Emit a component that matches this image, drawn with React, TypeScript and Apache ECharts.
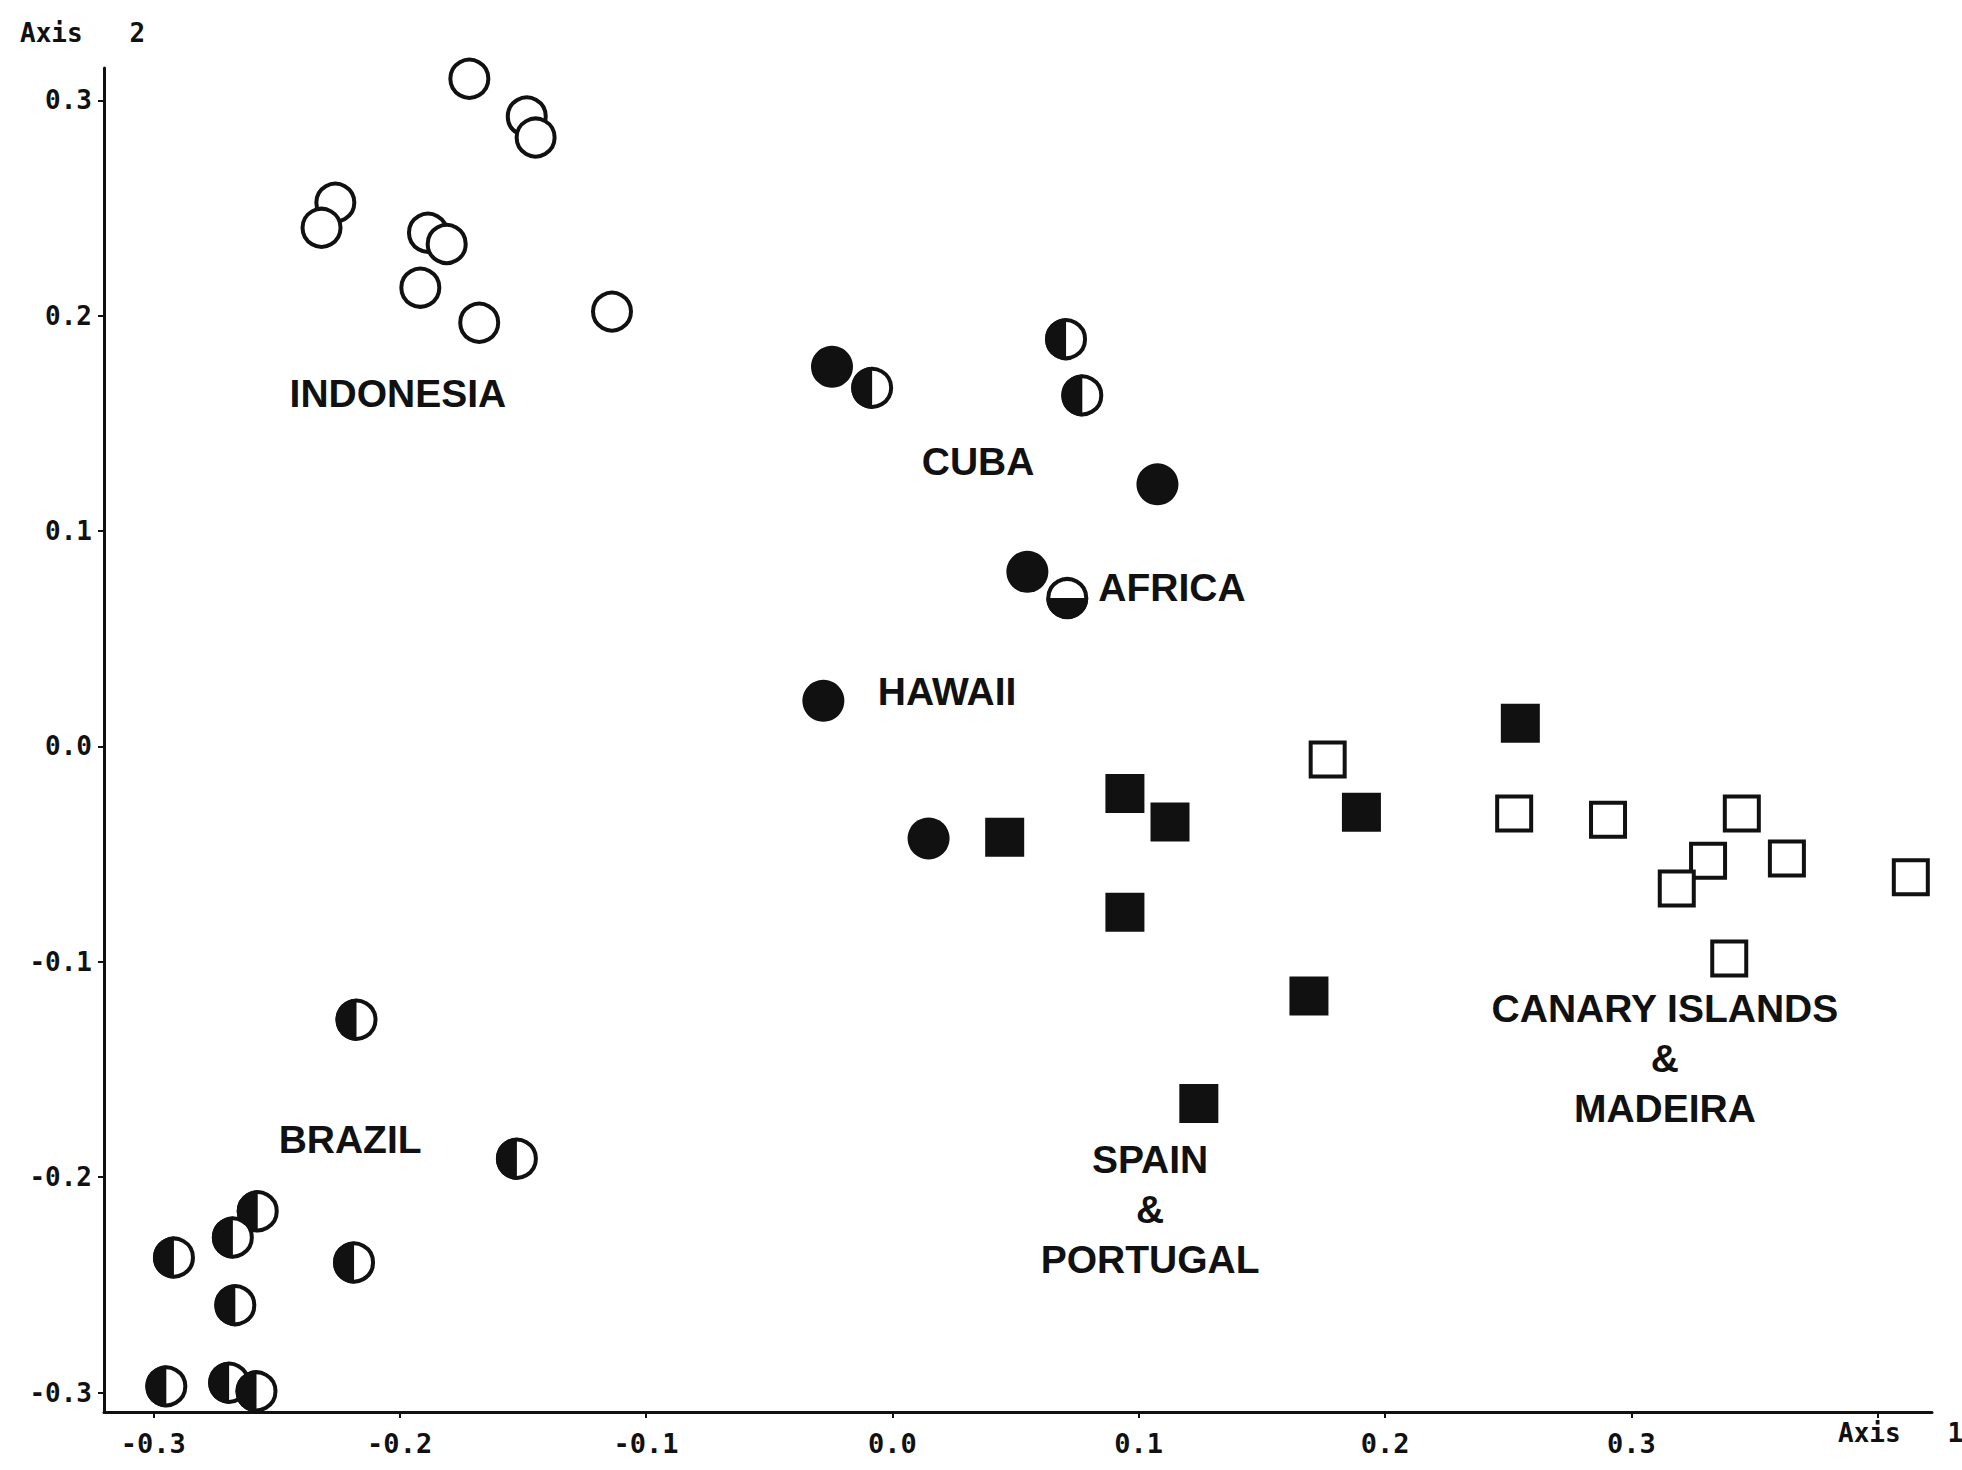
import React, { useEffect, useRef } from "react";
import * as echarts from "echarts";

// Axis ticks
const xTickValues = [-0.3, -0.2, -0.1, 0.0, 0.1, 0.2, 0.3, 0.4];
const xLabelValues = [-0.3, -0.2, -0.1, 0.0, 0.1, 0.2, 0.3];
const yTickValues = [-0.3, -0.2, -0.1, 0.0, 0.1, 0.2, 0.3];
const xAxisName = "Axis   1";
const yAxisName = "Axis   2";

// Indonesia (open circles)
const openCircles = [
  [-0.1717, 0.31], [-0.1484, 0.2925], [-0.1448, 0.2827], [-0.2261, 0.2525],
  [-0.2317, 0.2408], [-0.1885, 0.2385], [-0.1809, 0.2333], [-0.1916, 0.213],
  [-0.1677, 0.1967], [-0.1138, 0.2019],
];

// Cuba / Africa / Hawaii (filled circles)
const filledCircles = [
  [-0.0245, 0.1763], [0.1076, 0.1217], [0.0548, 0.0811], [-0.028, 0.0212], [0.0147, -0.0427],
];

// Half-filled circles, left half black (Cuba and Brazil)
const halfLeftCircles = [
  [-0.0082, 0.1665], [0.0705, 0.1891], [0.0771, 0.163],
  [-0.2175, -0.1269], [-0.1524, -0.1914], [-0.2576, -0.2158], [-0.2677, -0.228],
  [-0.2916, -0.2373], [-0.2185, -0.2396], [-0.2667, -0.2594], [-0.2947, -0.2971],
  [-0.2692, -0.2954], [-0.2581, -0.2994],
];

// Half-filled circle, bottom half black (Africa)
const halfBottomCircles = [[0.071, 0.0689]];

// Spain & Portugal (filled squares)
const filledSquares = [
  [0.0456, -0.0421], [0.0944, -0.0218], [0.1127, -0.0351], [0.1904, -0.0305],
  [0.2549, 0.0108], [0.0944, -0.077], [0.1691, -0.1159], [0.1244, -0.1658],
];

// Canary Islands & Madeira (open squares)
const openSquares = [
  [0.1767, -0.0061], [0.2524, -0.0311], [0.2905, -0.034], [0.3448, -0.0311],
  [0.3311, -0.0531], [0.3184, -0.0659], [0.3631, -0.052], [0.4134, -0.0607],
  [0.3397, -0.0984],
];

// Group labels and their data positions
const groupLabels = [
  "INDONESIA", "CUBA", "AFRICA", "HAWAII", "BRAZIL",
  "SPAIN\n&\nPORTUGAL", "CANARY ISLANDS\n&\nMADEIRA",
];
const groupLabelPos = [
  [-0.2007, 0.1641], [0.0348, 0.1325], [0.1135, 0.0736], [0.0222, 0.0257],
  [-0.2201, -0.1827], [0.1046, -0.2152], [0.3136, -0.1447],
];

const INK = "#111";
const MONO = "'DejaVu Sans Mono', monospace";
const SANS = "'Liberation Sans', Arial, sans-serif";

export default function App() {
  const ref = useRef<HTMLDivElement>(null);

  useEffect(() => {
    if (!ref.current) return;
    const chart = echarts.init(ref.current, null, { renderer: "svg" });

    const fmt = (v: number) => Number(v).toFixed(1);

    const halfRender = (start: number, end: number) => (params: any, api: any) => {
      const p = api.coord([api.value(0), api.value(1)]);
      return {
        type: "group",
        children: [
          {
            type: "circle",
            shape: { cx: p[0], cy: p[1], r: 19 },
            style: { fill: "#fff", stroke: INK, lineWidth: 4 },
          },
          {
            type: "sector",
            shape: { cx: p[0], cy: p[1], r0: 0, r: 21, startAngle: start, endAngle: end, clockwise: true },
            style: { fill: INK },
          },
        ],
      };
    };

    const option: any = {
      animation: false,
      backgroundColor: "#fff",
      grid: { left: 104, right: 30, top: 68, bottom: 58, containLabel: false },
      xAxis: {
        type: "value",
        min: -0.32,
        max: 0.422,
        splitLine: { show: false },
        axisLine: { show: true, onZero: false, lineStyle: { color: INK, width: 3 } },
        axisTick: { show: true, length: 6, customValues: xTickValues, lineStyle: { color: INK, width: 2 } },
        axisLabel: {
          customValues: xLabelValues,
          formatter: fmt,
          margin: 18,
          color: INK,
          fontFamily: MONO,
          fontWeight: "bold",
          fontSize: 27,
        },
      },
      yAxis: {
        type: "value",
        min: -0.309,
        max: 0.315,
        splitLine: { show: false },
        axisLine: { show: true, onZero: false, lineStyle: { color: INK, width: 3 } },
        axisTick: { show: true, length: 6, customValues: yTickValues, lineStyle: { color: INK, width: 2 } },
        axisLabel: {
          customValues: yTickValues,
          formatter: fmt,
          margin: 12,
          color: INK,
          fontFamily: MONO,
          fontWeight: "bold",
          fontSize: 26,
        },
      },
      graphic: [
        {
          type: "text",
          x: 20,
          y: 33,
          style: { text: yAxisName, fill: INK, font: `bold 26px ${MONO}`, verticalAlign: "middle" },
        },
        {
          type: "text",
          x: 1838,
          y: 1433,
          style: { text: xAxisName, fill: INK, font: `bold 26px ${MONO}`, verticalAlign: "middle" },
        },
      ],
      series: [
        {
          type: "scatter",
          data: openCircles,
          symbol: "circle",
          symbolSize: 38,
          itemStyle: { color: "#fff", borderColor: INK, borderWidth: 4, opacity: 1 },
        },
        {
          type: "scatter",
          data: filledCircles,
          symbol: "circle",
          symbolSize: 42,
          itemStyle: { color: INK, opacity: 1 },
        },
        {
          type: "custom",
          coordinateSystem: "cartesian2d",
          data: halfLeftCircles,
          encode: { x: 0, y: 1 },
          renderItem: halfRender(Math.PI / 2, Math.PI * 1.5),
        },
        {
          type: "custom",
          coordinateSystem: "cartesian2d",
          data: halfBottomCircles,
          encode: { x: 0, y: 1 },
          renderItem: halfRender(0, Math.PI),
        },
        {
          type: "scatter",
          data: filledSquares,
          symbol: "rect",
          symbolSize: 39,
          itemStyle: { color: INK, opacity: 1 },
        },
        {
          type: "scatter",
          data: openSquares,
          symbol: "rect",
          symbolSize: 34,
          itemStyle: { color: "#fff", borderColor: INK, borderWidth: 4, opacity: 1 },
        },
        {
          type: "custom",
          coordinateSystem: "cartesian2d",
          data: groupLabelPos,
          encode: { x: 0, y: 1 },
          clip: false,
          renderItem: (params: any, api: any) => {
            const p = api.coord([api.value(0), api.value(1)]);
            return {
              type: "text",
              x: p[0],
              y: p[1],
              style: {
                text: groupLabels[params.dataIndex],
                fill: INK,
                fontFamily: SANS,
                fontWeight: "bold",
                fontSize: 39,
                lineHeight: 50,
                align: "center",
                verticalAlign: "middle",
              },
            };
          },
        },
      ],
    };

    chart.setOption(option);
    return () => chart.dispose();
  }, []);

  return (
    <div
      ref={ref}
      style={{ position: "absolute", left: 0, top: 0, width: 1962, height: 1470, background: "#fff" }}
    />
  );
}
